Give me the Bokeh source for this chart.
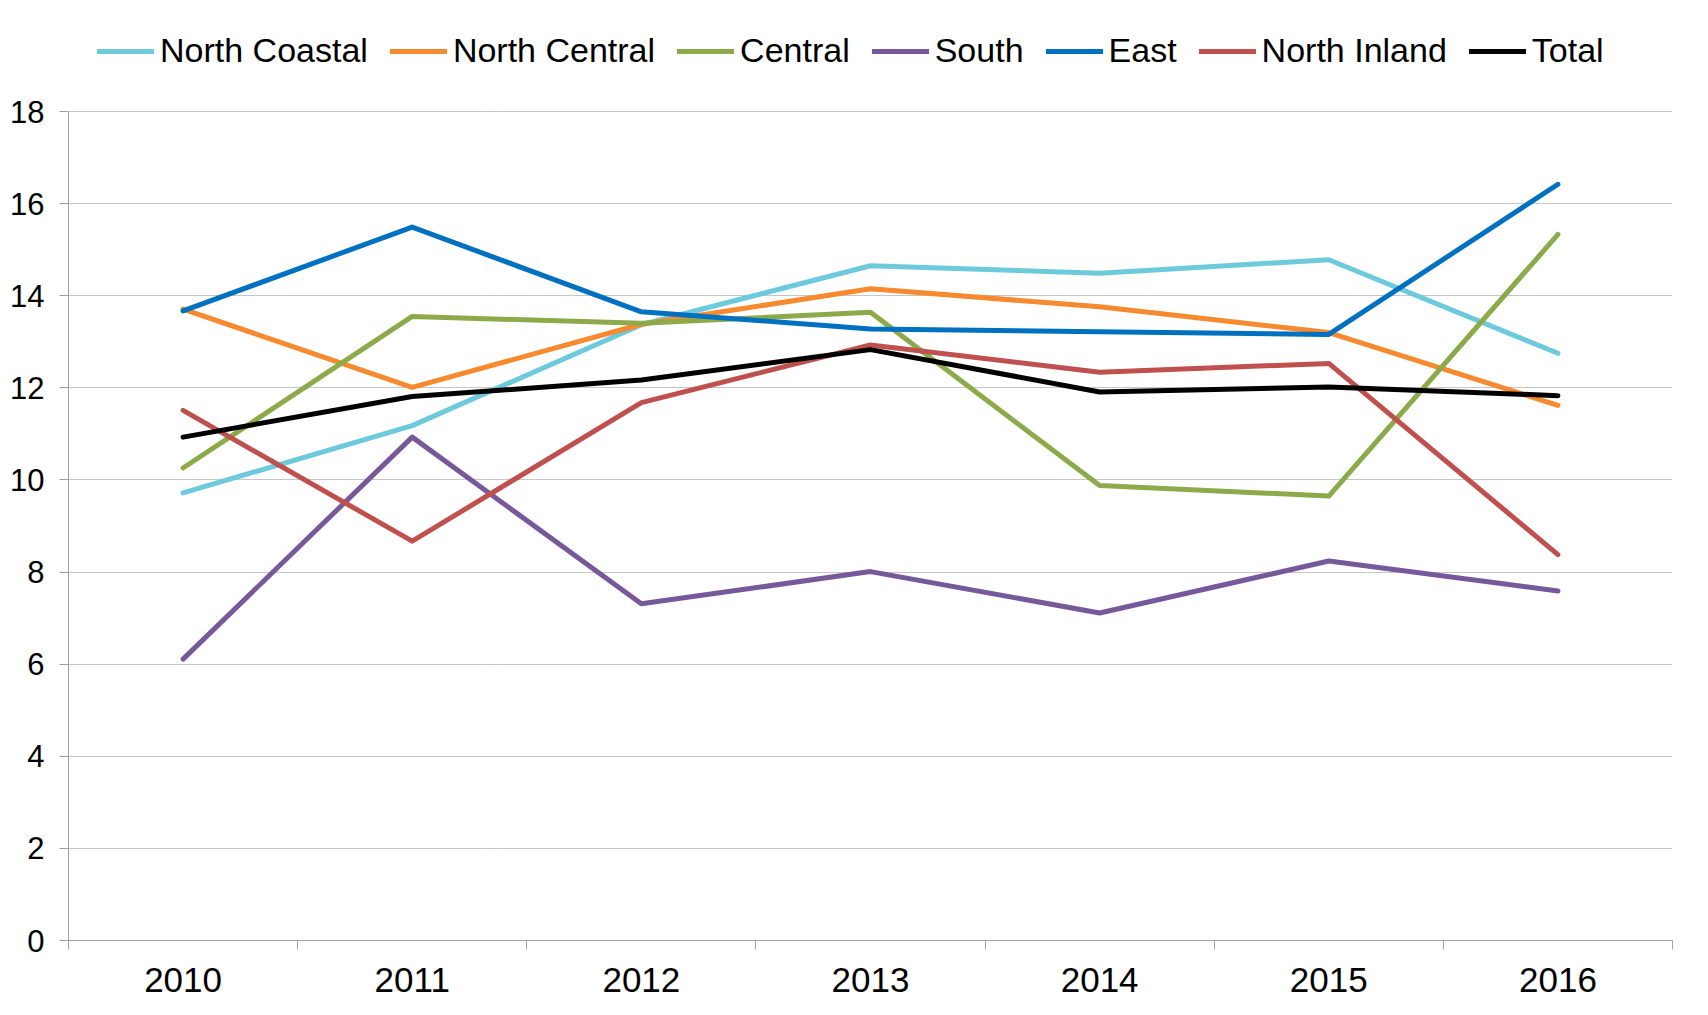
from bokeh.plotting import figure
from bokeh.models import Range1d, FixedTicker, Legend, LegendItem
from bokeh.embed import file_html
from bokeh.resources import INLINE

years = ["2010", "2011", "2012", "2013", "2014", "2015", "2016"]
north_coastal = [9.72, 11.18, 13.37, 14.65, 14.49, 14.78, 12.75]
north_central = [13.71, 12.01, 13.38, 14.15, 13.76, 13.20, 11.62]
central = [10.26, 13.55, 13.40, 13.64, 9.88, 9.65, 15.33]
south = [6.11, 10.93, 7.31, 8.01, 7.11, 8.24, 7.59]
east = [13.67, 15.49, 13.65, 13.28, 13.22, 13.16, 16.42]
north_inland = [11.51, 8.67, 11.68, 12.93, 12.34, 12.53, 8.38]
total = [10.93, 11.81, 12.17, 12.83, 11.91, 12.02, 11.83]

series_names = ["North Coastal", "North Central", "Central", "South", "East", "North Inland", "Total"]
series_values = [north_coastal, north_central, central, south, east, north_inland, total]
series_colors = ["#6CCADC", "#F7892F", "#8DAA4B", "#76589B", "#0071C1", "#C0504D", "#000000"]
y_ticks = [0, 2, 4, 6, 8, 10, 12, 14, 16, 18]

FONT = "Liberation Sans"

n = len(years)
xc = [i + 0.5 for i in range(n)]

# frame spans page y 10..940; the value 18 sits at y=111, leaving room for the legend above
H, TOP, BOT = 1008, 10, 68
frame_h = H - TOP - BOT
y_max_axis = y_ticks[-1]
y_top = y_max_axis * frame_h / (frame_h - (111 - TOP))

p = figure(width=1700, height=H, x_range=Range1d(0, n), y_range=Range1d(0, y_top),
           output_backend="svg", toolbar_location=None,
           min_border_left=68, min_border_right=28, min_border_top=TOP, min_border_bottom=BOT)
p.outline_line_color = None
p.background_fill_color = "white"
p.border_fill_color = "white"

# grid
p.xgrid.visible = False
p.ygrid.ticker = FixedTicker(ticks=[t for t in y_ticks if t > 0])
p.ygrid.grid_line_color = "#8C8C8C"
p.ygrid.grid_line_dash = "1 1"
p.ygrid.grid_line_width = 1

# y axis
p.yaxis.ticker = FixedTicker(ticks=y_ticks, minor_ticks=[])
p.yaxis.bounds = (0, y_max_axis)
p.yaxis.axis_line_color = "#A0A0A0"
p.yaxis.major_tick_line_color = "#A0A0A0"
p.yaxis.major_tick_out = 9
p.yaxis.major_tick_in = 0
p.yaxis.minor_tick_line_color = None
p.yaxis.major_label_standoff = 15
p.yaxis.major_label_text_font = FONT
p.yaxis.major_label_text_font_size = "31px"
p.yaxis.major_label_text_color = "#000000"

# x axis: labels at category centres, ticks at category boundaries
p.xaxis.ticker = FixedTicker(ticks=xc, minor_ticks=list(range(n + 1)))
p.xaxis.major_label_overrides = {x: y for x, y in zip(xc, years)}
p.xaxis.axis_line_color = "#A0A0A0"
p.xaxis.major_tick_line_color = None
p.xaxis.major_tick_out = 0
p.xaxis.major_tick_in = 0
p.xaxis.minor_tick_line_color = "#A0A0A0"
p.xaxis.minor_tick_out = 9
p.xaxis.minor_tick_in = 0
p.xaxis.major_label_standoff = 18
p.xaxis.major_label_text_font = FONT
p.xaxis.major_label_text_font_size = "35px"
p.xaxis.major_label_text_color = "#000000"

items = []
for name, vals, col in zip(series_names, series_values, series_colors):
    r = p.line(xc, vals, line_color=col, line_width=5, line_cap="round", line_join="round")
    items.append(LegendItem(label=name, renderers=[r]))

legend = Legend(items=items, orientation="horizontal", location=(29, 870))
legend.label_text_font = FONT
legend.label_text_font_size = "34px"
legend.label_text_color = "#000000"
legend.glyph_width = 57
legend.glyph_height = 20
legend.label_standoff = 6
legend.spacing = 22
legend.padding = 0
legend.margin = 0
legend.border_line_color = None
legend.background_fill_alpha = 0
p.add_layout(legend)

open("out.html", "w").write(file_html(p, INLINE))
